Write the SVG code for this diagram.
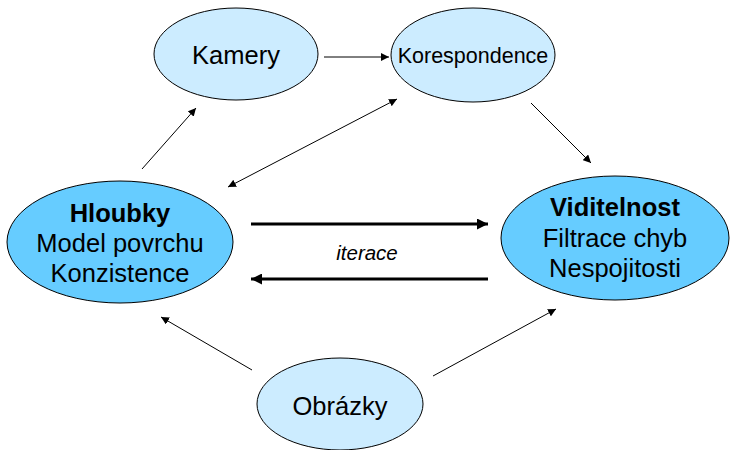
<svg xmlns="http://www.w3.org/2000/svg" width="730" height="450" viewBox="0 0 730 450">
<defs>
<style>
.light{fill:#CCECFF;stroke:#000;stroke-width:1}
.dark{fill:#66CCFF;stroke:#000;stroke-width:1}
text{font-family:"Liberation Sans",Arial,sans-serif;fill:#000;text-anchor:middle}
.big{font-size:25.5px}
.b{font-weight:bold}
.thin{stroke:#000;stroke-width:1;fill:none}
.thick{stroke:#000;stroke-width:3;fill:none}
</style>
<marker id="ah" viewBox="0 0 10 10" refX="10" refY="5" markerWidth="8" markerHeight="8" markerUnits="userSpaceOnUse" orient="auto-start-reverse"><path d="M0,0 L10,5 L0,10 z" fill="#000"/></marker>
<marker id="ahT" viewBox="0 0 10 10" refX="10" refY="5" markerWidth="13" markerHeight="11" markerUnits="userSpaceOnUse" orient="auto-start-reverse"><path d="M0,0 L10,5 L0,10 z" fill="#000"/></marker>
</defs>
<rect width="730" height="450" fill="#fff"/>
<g id="connectors">
<line class="thin" x1="324" y1="57" x2="389" y2="57" marker-end="url(#ah)"/>
<line class="thin" x1="142" y1="169" x2="196" y2="108" marker-end="url(#ah)"/>
<line class="thin" x1="228" y1="187" x2="397" y2="99" marker-start="url(#ah)" marker-end="url(#ah)"/>
<line class="thin" x1="531" y1="103" x2="591" y2="163" marker-end="url(#ah)"/>
<line class="thick" x1="251" y1="224" x2="488" y2="224" marker-end="url(#ahT)"/>
<line class="thick" x1="488" y1="279" x2="251" y2="279" marker-end="url(#ahT)"/>
<line class="thin" x1="252" y1="370" x2="161" y2="317" marker-end="url(#ah)"/>
<line class="thin" x1="433" y1="376" x2="556" y2="309" marker-end="url(#ah)"/>
<text x="367" y="260" font-size="20.5" font-style="italic">iterace</text>
</g>
<g id="kamery">
<ellipse class="light" cx="236" cy="54" rx="82" ry="46"/>
<text class="big" x="236" y="64">Kamery</text>
</g>
<g id="korespondence">
<ellipse class="light" cx="473" cy="55" rx="82" ry="47"/>
<text x="473" y="63" font-size="21.5">Korespondence</text>
</g>
<g id="hloubky">
<ellipse class="dark" cx="120" cy="242" rx="113" ry="61"/>
<text class="big b" x="120" y="222">Hloubky</text>
<text class="big" x="120" y="252">Model povrchu</text>
<text class="big" x="120" y="282">Konzistence</text>
</g>
<g id="viditelnost">
<ellipse class="dark" cx="615" cy="238" rx="114" ry="62"/>
<text class="big b" x="615" y="216">Viditelnost</text>
<text class="big" x="615" y="247">Filtrace chyb</text>
<text class="big" x="615" y="277">Nespojitosti</text>
</g>
<g id="obrazky">
<ellipse class="light" cx="340" cy="404" rx="83" ry="46"/>
<text class="big" x="340" y="415">Obrázky</text>
</g>
</svg>
